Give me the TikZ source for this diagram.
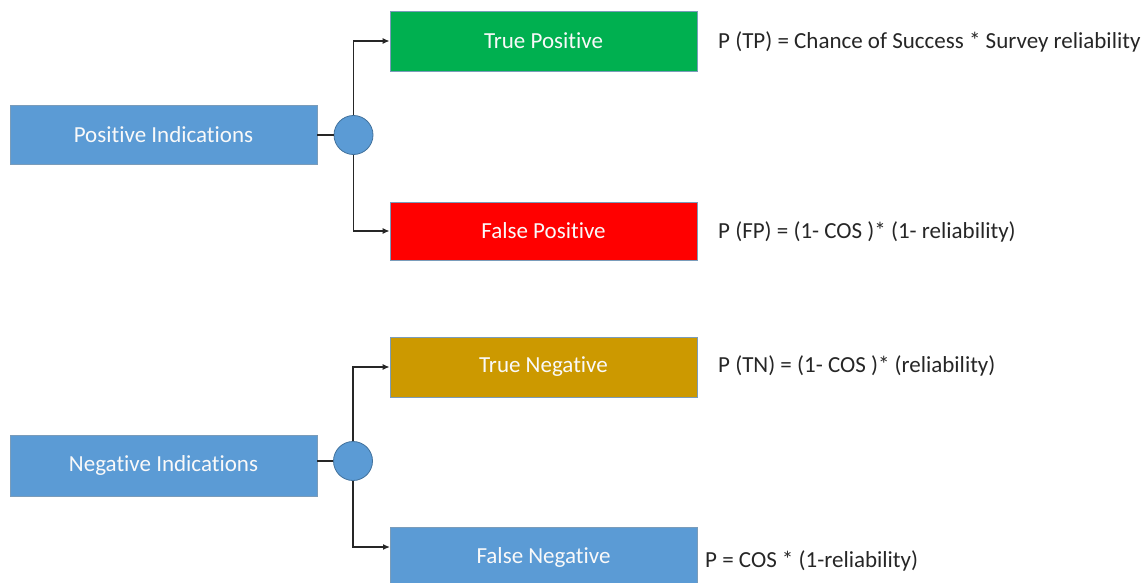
\documentclass[tikz,border=0pt]{standalone}
\usepackage{fontspec}
\setmainfont{Carlito}[Ligatures=NoCommon]
\usetikzlibrary{arrows.meta}
\definecolor{boxblue}{HTML}{5B9BD5}
\definecolor{edgeblue}{HTML}{41719C}
\definecolor{tpgreen}{HTML}{00B050}
\definecolor{fpred}{HTML}{FF0000}
\definecolor{tngold}{HTML}{CC9900}
\definecolor{wire}{HTML}{262626}
\begin{document}
\begin{tikzpicture}[x=1pt,y=-1pt,
  outcome/.style={rectangle, draw=edgeblue!70, line width=0.8pt, inner sep=0pt,
    minimum width=307pt, minimum height=60pt, text=white!95!gray,
    font=\fontsize{23}{27}\selectfont},
  junction/.style={circle, fill=boxblue, draw=edgeblue, line width=0.8pt,
    inner sep=0pt, minimum size=39pt},
  formula/.style={anchor=west, inner sep=0pt, text=black!85,
    font=\fontsize{23}{27}\selectfont},
  branch/.style={draw=wire, line width=1.3pt, -{Latex[length=7pt,width=6pt]}},
  stem/.style={draw=wire, line width=1.3pt}]
\useasboundingbox (0,0) rectangle (1148,583);
\begin{scope}
\clip (0,0) rectangle (1148,583);

% positive branch
\node[outcome, fill=boxblue, minimum height=59pt] (pi) at (163.5,134.5) {Positive Indications};
\node[junction] (c1) at (353.5,135) {};
\node[outcome, fill=tpgreen] (tp) at (543.5,41) {True Positive};
\node[outcome, fill=fpred, minimum height=58pt] (fp) at (543.5,231) {False Positive};

% negative branch
\node[outcome, fill=boxblue, minimum height=61pt] (ni) at (163.5,465.5) {Negative Indications};
\node[junction] (c2) at (353,461) {};
\node[outcome, fill=tngold] (tn) at (543.5,367) {True Negative};
\node[outcome, fill=boxblue] (fn) at (543.5,557) {};
\node[text=white!95!gray, font=\fontsize{23}{27}\selectfont] (fnlabel) at (543.5,557) {False Negative};

% connectors
\draw[stem] (c1.west) -- (c1.west -| pi.east);
\draw[branch] (c1.north) |- (tp.west);
\draw[branch] (c1.south) |- (fp.west);
\coordinate (fnin) at (390,547);
\draw[stem] (c2.west) -- (c2.west -| ni.east);
\draw[branch] (c2.north) |- (tn.west);
\draw[branch] (c2.south) |- (fnin);

% probability formulas
\node[formula] (ftp) at (718,42) {P (TP) = Chance of Success * Survey reliability};
\node[formula] (ffp) at (718,232) {P (FP) = (1- COS )* (1- reliability)};
\node[formula] (ftn) at (718,366) {P (TN) = (1- COS )* (reliability)};
\node[formula] (ffn) at (705,561) {P = COS * (1-reliability)};
\end{scope}
\end{tikzpicture}
\end{document}
